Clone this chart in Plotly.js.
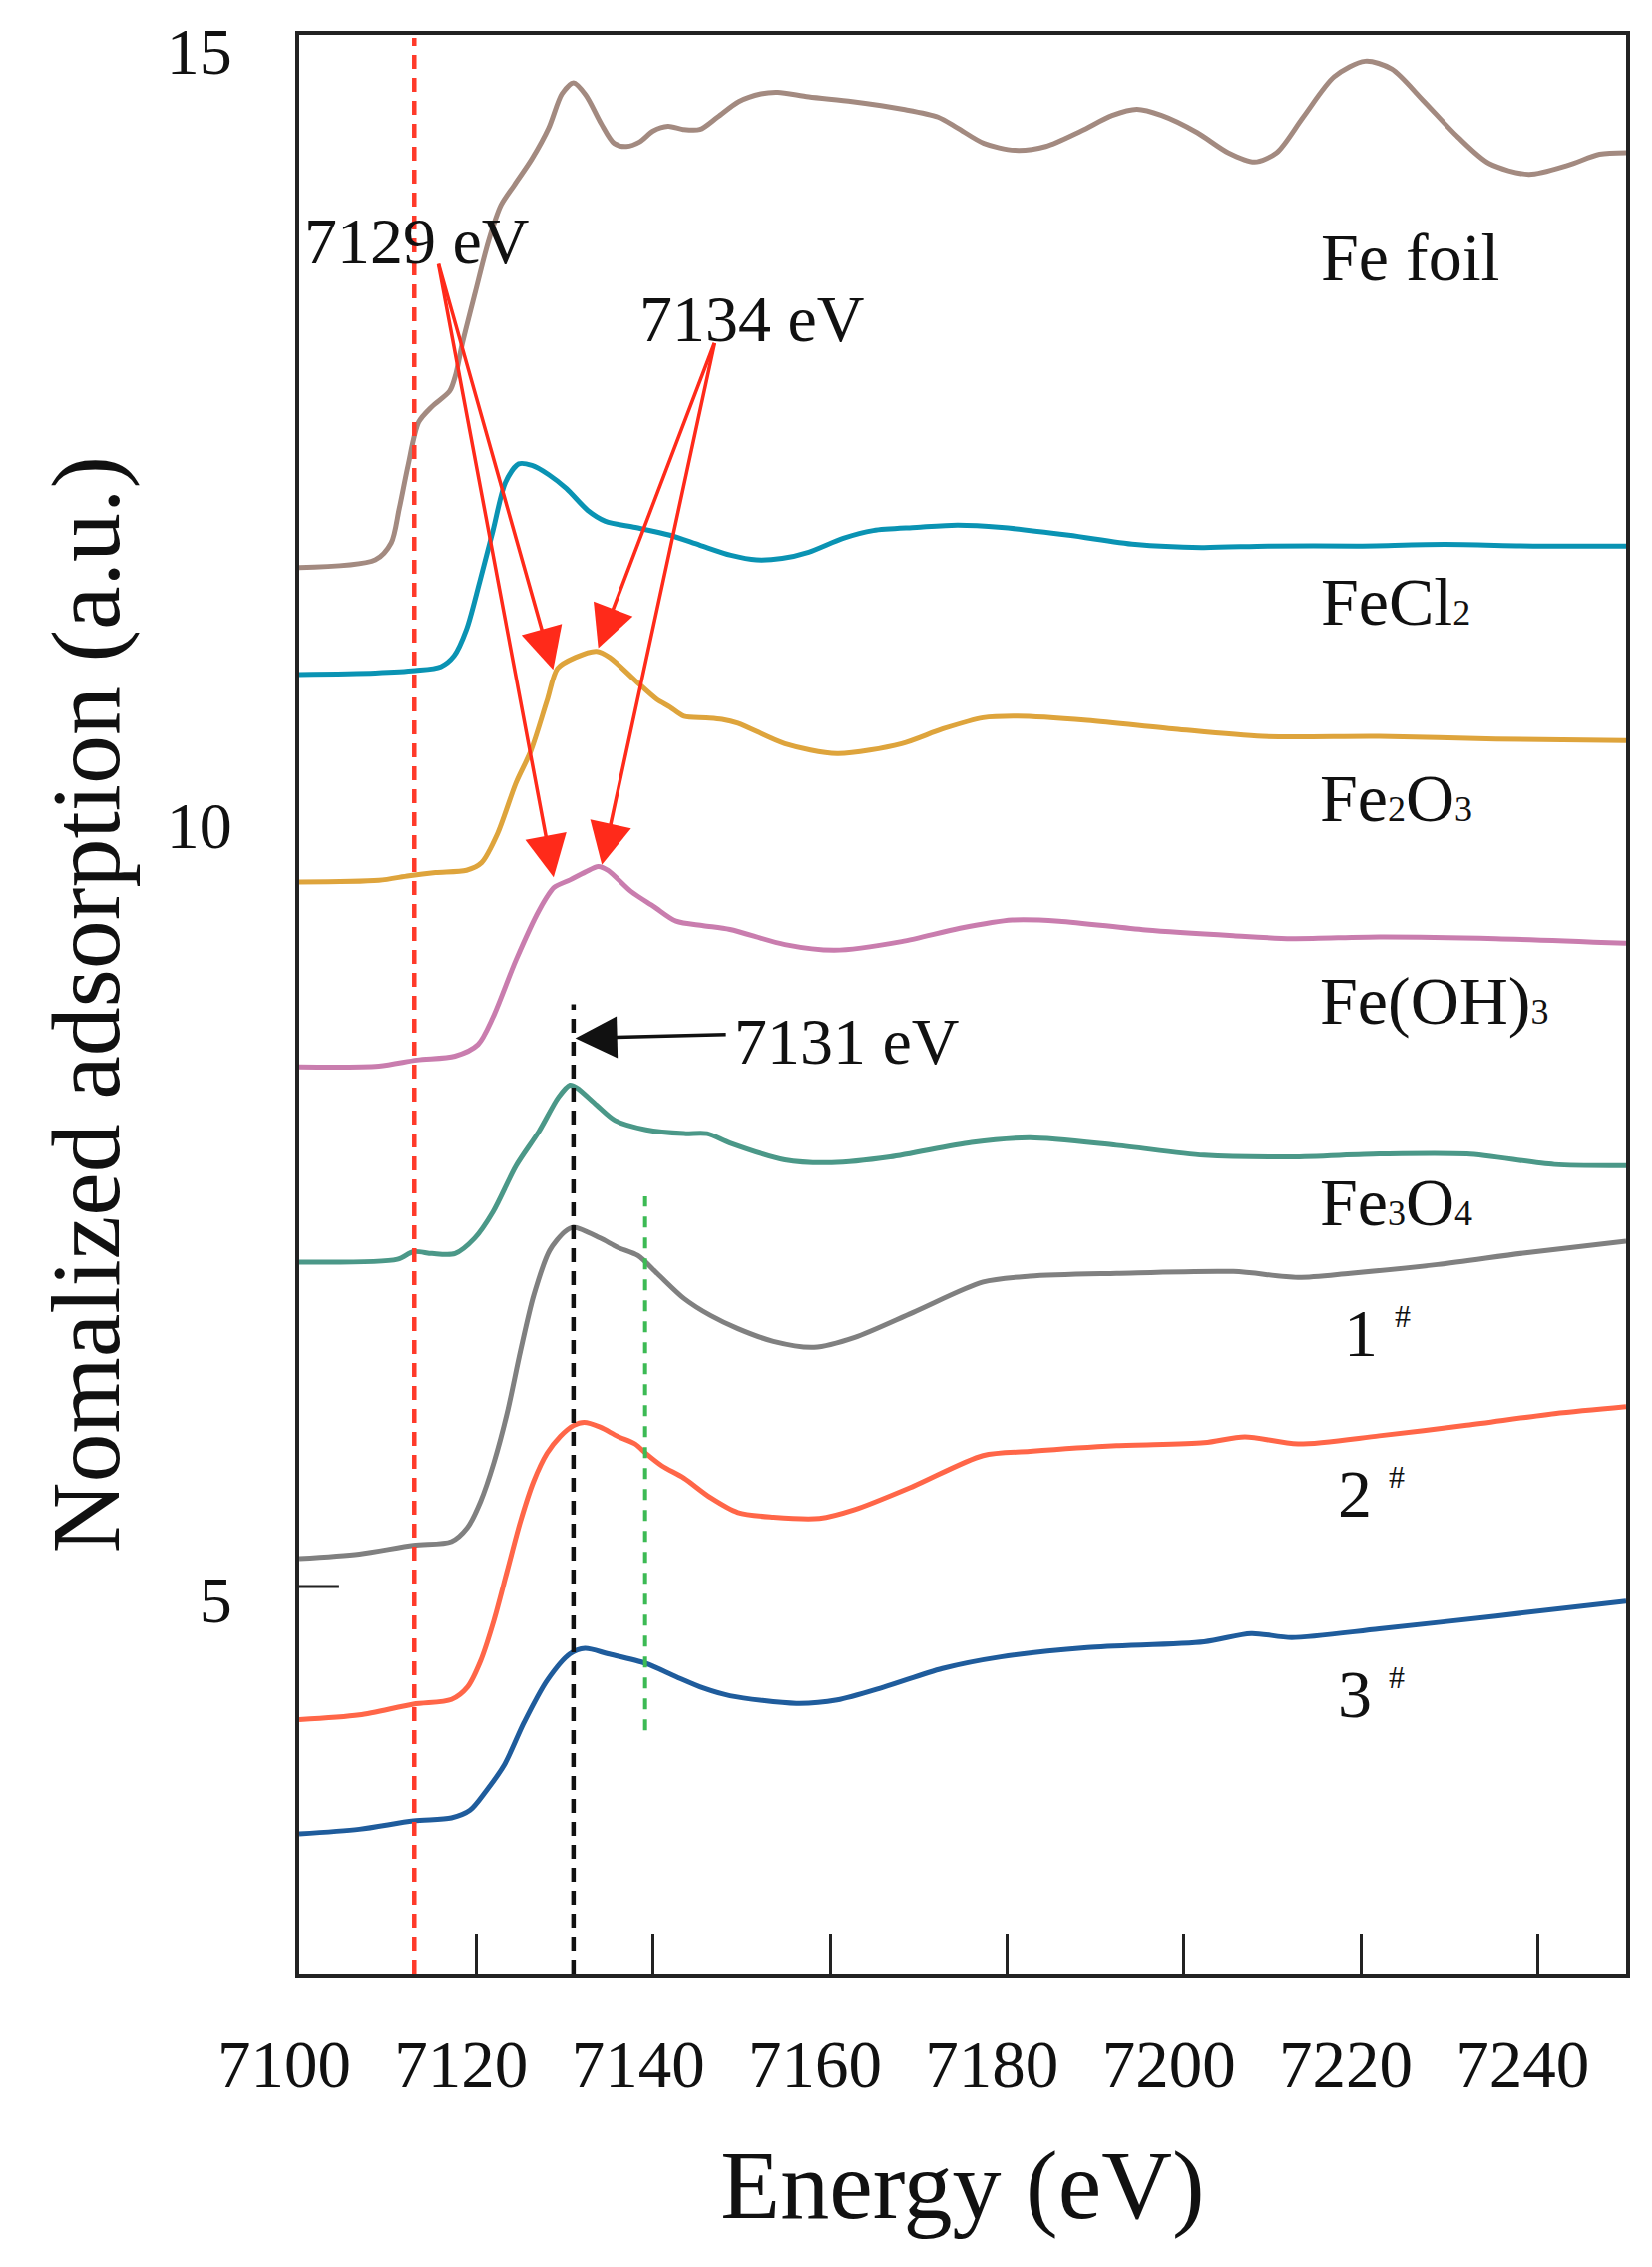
<!DOCTYPE html>
<html>
<head>
<meta charset="utf-8">
<script src="https://cdn.plot.ly/plotly-3.0.1.min.js"></script>
<style>
  html, body { margin: 0; padding: 0; background: #fff; }
  #chart { width: 1656px; height: 2272px; }
</style>
</head>
<body>
<div id="chart"></div>
<script>
// Fe K-edge XANES: 기준물질 5종 + 시료 1#~3#, 세로로 offset된 스펙트럼.
const FONT = '"Liberation Serif", "Times New Roman", serif';
const INK = '#111';

// ── 데이터 ──
const feFoilE = [7100, 7108.6, 7110.4, 7111.3, 7112.3, 7113.5, 7115, 7117, 7117.7, 7118.4, 7119.9, 7121.4, 7122.8, 7124.3, 7126.3, 7128.2, 7129.7, 7131, 7132.4, 7134.1, 7135.6, 7137, 7138.5, 7140, 7141.7, 7143.4, 7145.3, 7147.3, 7149.7, 7152.2, 7154.1, 7157.6, 7162.5, 7168.3, 7172.2, 7174.4, 7177.4, 7180.9, 7184.4, 7188.4, 7191.9, 7194.7, 7197.5, 7201.5, 7205, 7208, 7210.5, 7213.5, 7217, 7220.5, 7223.5, 7227, 7231, 7234.5, 7239, 7243.5, 7247, 7250];
const feFoilY = [11.58, 11.63, 11.74, 11.96, 12.24, 12.52, 12.62, 12.72, 12.83, 13.02, 13.36, 13.69, 13.92, 14.05, 14.22, 14.42, 14.64, 14.71, 14.63, 14.45, 14.32, 14.30, 14.33, 14.40, 14.43, 14.41, 14.41, 14.49, 14.59, 14.64, 14.65, 14.62, 14.59, 14.54, 14.49, 14.42, 14.32, 14.275, 14.30, 14.40, 14.50, 14.54, 14.50, 14.39, 14.26, 14.20, 14.26, 14.49, 14.75, 14.85, 14.80, 14.60, 14.36, 14.19, 14.12, 14.18, 14.25, 14.26];

const feCl2E = [7100, 7108.6, 7113.1, 7116, 7117.5, 7118.9, 7120.4, 7121.9, 7123.3, 7124.8, 7126.3, 7128.2, 7130.2, 7132.6, 7134.6, 7138, 7141.9, 7145.3, 7148.8, 7151.7, 7154.6, 7157.6, 7161.5, 7164.9, 7169.8, 7174.4, 7179.4, 7187, 7194.5, 7202, 7209.5, 7219.5, 7229.5, 7239.5, 7250];
const feCl2Y = [10.89, 10.90, 10.915, 10.94, 11.01, 11.18, 11.49, 11.82, 12.13, 12.25, 12.24, 12.18, 12.09, 11.95, 11.88, 11.84, 11.79, 11.725, 11.66, 11.63, 11.64, 11.68, 11.77, 11.82, 11.84, 11.855, 11.84, 11.79, 11.73, 11.71, 11.72, 11.72, 11.73, 11.72, 11.72];

const fe2o3E = [7100, 7109, 7112.4, 7115.4, 7118.9, 7120.6, 7122.4, 7124.5, 7126.2, 7128, 7129.2, 7131.2, 7133.6, 7135.1, 7138, 7140.4, 7141.9, 7143.5, 7146, 7147.8, 7149.6, 7154.9, 7160.8, 7168.1, 7172.7, 7177.3, 7181.2, 7189.1, 7199, 7208.9, 7222.1, 7235.3, 7250];
const fe2o3Y = [9.55, 9.56, 9.59, 9.61, 9.625, 9.674, 9.86, 10.19, 10.40, 10.72, 10.93, 11.0, 11.04, 11.0, 10.85, 10.73, 10.68, 10.62, 10.61, 10.60, 10.575, 10.443, 10.379, 10.443, 10.537, 10.61, 10.62, 10.593, 10.537, 10.49, 10.49, 10.473, 10.462];

const feOH3E = [7100, 7109, 7113.3, 7117.6, 7120.2, 7121.9, 7124.5, 7127.1, 7128.8, 7130.6, 7132.3, 7133.8, 7134.9, 7137.5, 7140.1, 7142.6, 7145.7, 7148.7, 7154.9, 7160.5, 7168.1, 7174.7, 7180.6, 7185.9, 7195.7, 7205.6, 7212.2, 7222.1, 7235.3, 7250];
const feOH3Y = [8.356, 8.361, 8.40, 8.425, 8.50, 8.676, 9.046, 9.366, 9.514, 9.563, 9.613, 9.65, 9.625, 9.489, 9.391, 9.297, 9.268, 9.243, 9.146, 9.109, 9.165, 9.251, 9.304, 9.297, 9.24, 9.203, 9.184, 9.195, 9.184, 9.154];

const fe3o4E = [7100, 7111.1, 7112.9, 7115, 7117.6, 7119.8, 7121.9, 7124.5, 7127.1, 7129.3, 7130.6, 7131.4, 7133.6, 7135.7, 7139.2, 7143.5, 7146.1, 7148.7, 7154.9, 7160.2, 7166.8, 7176, 7182.6, 7192.4, 7202.3, 7212.2, 7222.1, 7232, 7241.9, 7250];
const fe3o4Y = [7.095, 7.113, 7.162, 7.15, 7.15, 7.248, 7.42, 7.716, 7.94, 8.16, 8.238, 8.22, 8.11, 8.01, 7.95, 7.925, 7.925, 7.864, 7.755, 7.737, 7.774, 7.868, 7.898, 7.849, 7.785, 7.774, 7.793, 7.793, 7.725, 7.718];

const s1E = [7100, 7106.8, 7112.9, 7117.2, 7119, 7120.5, 7122, 7123.5, 7125, 7126.5, 7128.3, 7130, 7131, 7134, 7136, 7138.3, 7140.5, 7143.5, 7146.5, 7149.6, 7153.6, 7158.2, 7162.8, 7169.4, 7177.3, 7182.6, 7192.4, 7205.6, 7212.9, 7218.8, 7228.7, 7238.6, 7250];
const s1Y = [5.18, 5.21, 5.266, 5.29, 5.38, 5.55, 5.80, 6.12, 6.52, 6.88, 7.17, 7.29, 7.32, 7.25, 7.19, 7.137, 7.02, 6.86, 6.75, 6.665, 6.583, 6.545, 6.609, 6.77, 6.966, 7.004, 7.022, 7.034, 6.996, 7.022, 7.079, 7.154, 7.229];

const s2E = [7100, 7106.8, 7112.9, 7117.2, 7119, 7120.5, 7122, 7123.5, 7125, 7126.5, 7128, 7129.5, 7131, 7132.2, 7134, 7136, 7138, 7139.2, 7141, 7143.5, 7146.5, 7149.6, 7153.6, 7158.8, 7162.8, 7169.4, 7177.3, 7182.6, 7192.4, 7202.3, 7206.9, 7212.9, 7222.1, 7232, 7241.9, 7250];
const s2Y = [4.14, 4.17, 4.24, 4.27, 4.35, 4.52, 4.78, 5.10, 5.42, 5.68, 5.86, 5.97, 6.04, 6.06, 6.03, 5.97, 5.92, 5.86, 5.78, 5.70, 5.574, 5.478, 5.448, 5.44, 5.497, 5.647, 5.846, 5.873, 5.91, 5.929, 5.967, 5.921, 5.974, 6.042, 6.117, 6.162];

const s3E = [7100, 7106.8, 7112.9, 7117.2, 7119.3, 7121.1, 7123.2, 7125.4, 7128, 7130.6, 7132.3, 7134.9, 7139.2, 7142.6, 7145.7, 7148.7, 7156.2, 7160.8, 7166.1, 7172.7, 7179.3, 7189.1, 7202.3, 7207.6, 7212.2, 7222.1, 7235.3, 7250];
const s3Y = [3.402, 3.432, 3.486, 3.505, 3.555, 3.678, 3.85, 4.121, 4.392, 4.565, 4.60, 4.565, 4.503, 4.417, 4.343, 4.294, 4.245, 4.267, 4.35, 4.47, 4.545, 4.606, 4.643, 4.696, 4.67, 4.726, 4.809, 4.906];

// 오른쪽 시리즈 라벨 (x = 왼쪽 끝, y = 글자 중심). 아래첨자는 기준선에 붙은 작은 숫자.
const SUB = (d) => `<span style="font-size:36px">${d}</span>`;
const SUP = '<sup><span style="font-size:32px">#</span></sup>';
const labelText = ['Fe foil', 'FeCl' + SUB(2), 'Fe' + SUB(2) + 'O' + SUB(3), 'Fe(OH)' + SUB(3), 'Fe' + SUB(3) + 'O' + SUB(4),
  '1 ' + SUP, '2 ' + SUP, '3 ' + SUP];
const labelX = [7215.3, 7215.3, 7215.1, 7215.1, 7215.1, 7217.9, 7217.2, 7217.2];
const labelY = [13.58, 11.36, 10.09, 8.785, 7.484, 6.634, 5.60, 4.305];

// 기준 에너지 점선: [x, yFrom, yTo]
const guideRed = [7113, 2.5, 15];
const guideBlack = [7131, 2.5, 8.76];
const guideGreen = [7139.1, 4.07, 7.52];

// 에너지 주석 글자와 화살표 (tail → tip)
const noteText = ['7129 eV', '7134 eV', '7131 eV'];
const noteX = [7100.3, 7138.2, 7148.9];
const noteY = [13.69, 13.19, 8.52];
const arrowTailX = [7115.7, 7115.7, 7147.0, 7147.0, 7148.4];
const arrowTailY = [13.55, 13.55, 13.04, 13.04, 8.566];
const arrowTipX = [7128.7, 7128.75, 7133.8, 7134.2, 7131.2];
const arrowTipY = [10.92, 9.58, 11.06, 9.66, 8.541];
const arrowColor = ['#ff2a1a', '#ff2a1a', '#ff2a1a', '#ff2a1a', '#111'];

const xTicks = [7100, 7120, 7140, 7160, 7180, 7200, 7220, 7240];
const yTicks = [5, 10, 15];

const series = [
  { x: feFoilE, y: feFoilY, color: '#a38a80' },
  { x: feCl2E, y: feCl2Y, color: '#0a93b3' },
  { x: fe2o3E, y: fe2o3Y, color: '#dea43c' },
  { x: feOH3E, y: feOH3Y, color: '#c97dae' },
  { x: fe3o4E, y: fe3o4Y, color: '#4b9888' },
  { x: s1E, y: s1Y, color: '#808080' },
  { x: s2E, y: s2Y, color: '#ff6648' },
  { x: s3E, y: s3Y, color: '#1f5c9c' },
];

const traces = series.map((s) => ({
  x: s.x, y: s.y, mode: 'lines', hoverinfo: 'skip',
  line: { color: s.color, width: 5, shape: 'spline', smoothing: 0.8 },
}));

function vline(g, color, dash, width) {
  return { type: 'line', xref: 'x', yref: 'y', x0: g[0], x1: g[0], y0: g[1], y1: g[2], layer: 'above',
    line: { color, width, dash } };
}

const shapes = [
  vline(guideRed, '#ff3a2a', '14px,9px', 4.5),
  vline(guideBlack, '#111', '14px,9px', 4.5),
  vline(guideGreen, '#3cba54', '11px,10px', 4),
  // y=5 에만 보이는 짧은 눈금
  { type: 'line', xref: 'paper', yref: 'y', x0: 0, x1: 0.03, y0: yTicks[0], y1: yTicks[0], line: { color: '#222', width: 3 } },
];

const annotations = [];
labelText.forEach((t, i) => annotations.push({
  x: labelX[i], y: labelY[i], xanchor: 'left', yanchor: 'middle', text: t, showarrow: false,
  font: { family: FONT, size: 68, color: INK },
}));
noteText.forEach((t, i) => annotations.push({
  x: noteX[i], y: noteY[i], xanchor: 'left', yanchor: 'middle', text: t, showarrow: false,
  font: { family: FONT, size: 66, color: INK },
}));
arrowTipX.forEach((x, i) => annotations.push({
  x, y: arrowTipY[i], ax: arrowTailX[i], ay: arrowTailY[i], axref: 'x', ayref: 'y',
  text: '', showarrow: true, arrowhead: 2, arrowsize: 2.4, arrowwidth: 3.5, arrowcolor: arrowColor[i],
  standoff: 0, startstandoff: 0,
}));

const layout = {
  width: 1656, height: 2272,
  paper_bgcolor: '#fff', plot_bgcolor: '#fff',
  margin: { l: 300, r: 26, t: 35, b: 294 },
  showlegend: false,
  font: { family: FONT, color: INK },
  xaxis: {
    range: [7100, 7250], tickvals: xTicks, ticktext: xTicks.map(String),
    ticks: 'inside', ticklen: 40, tickwidth: 3, tickcolor: '#222',
    showline: true, mirror: true, linecolor: '#222', linewidth: 4,
    showgrid: false, zeroline: false,
    tickfont: { family: FONT, size: 67, color: INK },
    ticklabelstandoff: 30, ticklabelshift: -15,
    title: { text: 'Energy (eV)', font: { family: FONT, size: 98, color: INK }, standoff: 50 },
  },
  yaxis: {
    range: [2.5, 15.02], tickvals: yTicks, ticktext: yTicks.map(String),
    ticks: '', showline: true, mirror: true, linecolor: '#222', linewidth: 4,
    showgrid: false, zeroline: false,
    tickfont: { family: FONT, size: 66, color: INK },
    ticklabelstandoff: 50, ticklabelshift: 13, ticklabeloverflow: 'allow',
    title: { text: 'Nomalized adsorption (a.u.)', font: { family: FONT, size: 98, color: INK }, standoff: 15 },
  },
  shapes,
  annotations,
};

Plotly.newPlot('chart', traces, layout, { displayModeBar: false, staticPlot: true });
</script>
</body>
</html>
